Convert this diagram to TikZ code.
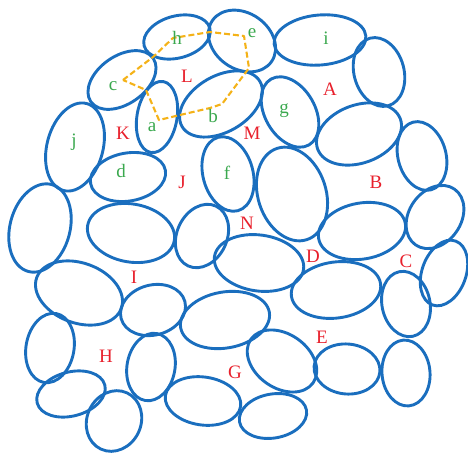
\documentclass[tikz,border=0pt]{standalone}
\usepackage{fontspec}
\setmainfont{Liberation Serif}
\usetikzlibrary{positioning}
\definecolor{cellblue}{RGB}{26,110,190}
\definecolor{regionred}{RGB}{232,32,44}
\definecolor{sitegreen}{RGB}{58,168,78}
\definecolor{routegold}{RGB}{244,178,24}

\begin{document}
\begin{tikzpicture}[x=1pt,y=-1pt,
        cell/.style={draw=cellblue,line width=2.9pt},
        region/.style={text=regionred,font=\fontsize{19}{22}\selectfont,inner sep=0pt,anchor=base},
        site/.style={text=sitegreen,font=\fontsize{19}{22}\selectfont,inner sep=0pt,anchor=base},
        route/.style={draw=routegold,line width=2.1pt,dash pattern=on 6pt off 3pt,line join=round}
    ]
        \useasboundingbox (0,0) rectangle (468,455);

        \draw[cell,rotate around={15:(177,37)}] (177,37) ellipse [x radius=34,y radius=21];
        \draw[cell,rotate around={-35:(242,41)}] (242,41) ellipse [x radius=36,y radius=28];
        \draw[cell,rotate around={35:(122,80)}] (122,80) ellipse [x radius=38,y radius=24];
        \draw[cell,rotate around={-10:(157,117)}] (157,117) ellipse [x radius=20,y radius=36];
        \draw[cell,rotate around={30:(221,104)}] (221,104) ellipse [x radius=45,y radius=28];
        \draw[cell,rotate around={5:(320,40)}] (320,40) ellipse [x radius=46,y radius=25];
        \draw[cell,rotate around={15:(379,72)}] (379,72) ellipse [x radius=25,y radius=35];
        \draw[cell,rotate around={30:(290,112)}] (290,112) ellipse [x radius=25,y radius=38];
        \draw[cell,rotate around={20:(359,134)}] (359,134) ellipse [x radius=44,y radius=29];
        \draw[cell,rotate around={15:(422,156)}] (422,156) ellipse [x radius=24,y radius=35];
        \draw[cell,rotate around={18:(292,194)}] (292,194) ellipse [x radius=34,y radius=48];
        \draw[cell,rotate around={15:(228,174)}] (228,174) ellipse [x radius=25,y radius=38];
        \draw[cell,rotate around={10:(128,177)}] (128,177) ellipse [x radius=38,y radius=24];
        \draw[cell,rotate around={-15:(75,147)}] (75,147) ellipse [x radius=28,y radius=45];
        \draw[cell,rotate around={-15:(40,228)}] (40,228) ellipse [x radius=30,y radius=45];
        \draw[cell,rotate around={-10:(131,233)}] (131,233) ellipse [x radius=44,y radius=29];
        \draw[cell,rotate around={-25:(202,236)}] (202,236) ellipse [x radius=25,y radius=33];
        \draw[cell,rotate around={-8:(259,263)}] (259,263) ellipse [x radius=45,y radius=28];
        \draw[cell,rotate around={10:(362,231)}] (362,231) ellipse [x radius=44,y radius=28];
        \draw[cell,rotate around={-35:(435,217)}] (435,217) ellipse [x radius=26,y radius=34];
        \draw[cell,rotate around={-20:(444,273)}] (444,273) ellipse [x radius=22,y radius=34];
        \draw[cell,rotate around={12:(406,304)}] (406,304) ellipse [x radius=24,y radius=33];
        \draw[cell,rotate around={8:(336,290)}] (336,290) ellipse [x radius=45,y radius=28];
        \draw[cell,rotate around={5:(406,373)}] (406,373) ellipse [x radius=24,y radius=33];
        \draw[cell,rotate around={-5:(347,369)}] (347,369) ellipse [x radius=33,y radius=25];
        \draw[cell,rotate around={-35:(282,361)}] (282,361) ellipse [x radius=38,y radius=27];
        \draw[cell,rotate around={10:(273,416)}] (273,416) ellipse [x radius=34,y radius=22];
        \draw[cell,rotate around={10:(225,320)}] (225,320) ellipse [x radius=45,y radius=28];
        \draw[cell,rotate around={15:(153,310)}] (153,310) ellipse [x radius=33,y radius=25];
        \draw[cell,rotate around={-20:(79,293)}] (79,293) ellipse [x radius=45,y radius=30];
        \draw[cell,rotate around={-10:(50,348)}] (50,348) ellipse [x radius=24,y radius=35];
        \draw[cell,rotate around={-10:(151,367)}] (151,367) ellipse [x radius=24,y radius=34];
        \draw[cell,rotate around={15:(71,394)}] (71,394) ellipse [x radius=35,y radius=22];
        \draw[cell,rotate around={-25:(114,421)}] (114,421) ellipse [x radius=27,y radius=31];
        \draw[cell,rotate around={-8:(203,401)}] (203,401) ellipse [x radius=38,y radius=24];

        \draw[route] (123,80) -- (153,57) -- (173,38) -- (210,32) -- (244,36) -- (249,68)
            -- (222,104) -- (210,108) -- (180,115) -- (159,120) -- (146,90) -- cycle;

        \node[site] (sh) at (177,44) {h};
        \node[site] (se) at (252,37) {e};
        \node[site] (sc) at (113,90) {c};
        \node[site] (sa) at (152,131) {a};
        \node[site] (sb) at (213,122) {b};
        \node[site] (si) at (326,44) {i};
        \node[site] (sg) at (284,113) {g};
        \node[site] (sf) at (227,179) {f};
        \node[site] (sd) at (121,177) {d};
        \node[site] (sj) at (74,146) {j};

        \node[region] (rL) at (187,82) {L};
        \node[region] (rK) at (123,139) {K};
        \node[region] (rM) at (252,139) {M};
        \node[region] (rA) at (330,95) {A};
        \node[region] (rJ) at (182,188) {J};
        \node[region] (rB) at (376,188) {B};
        \node[region] (rN) at (247,229) {N};
        \node[region] (rD) at (313,262) {D};
        \node[region] (rC) at (406,267) {C};
        \node[region] (rI) at (134,283) {I};
        \node[region] (rE) at (322,343) {E};
        \node[region] (rH) at (106,362) {H};
        \node[region] (rG) at (235,378) {G};
    \end{tikzpicture}
\end{document}
